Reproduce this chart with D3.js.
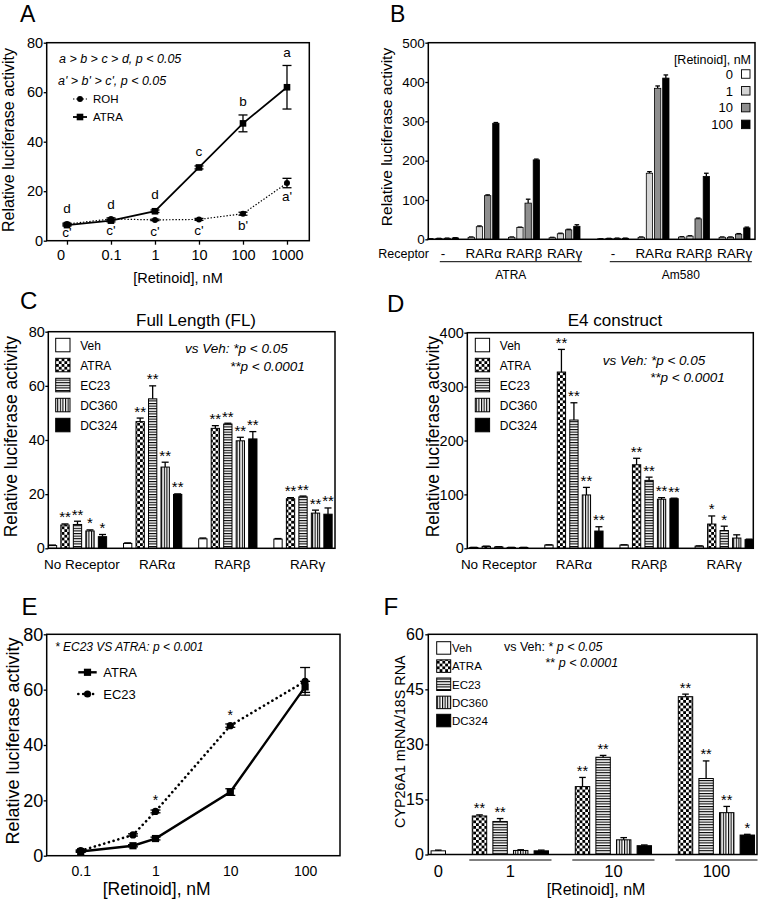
<!DOCTYPE html>
<html><head><meta charset="utf-8">
<script src="https://cdn.jsdelivr.net/npm/d3@7"></script>
<style>
body{margin:0;background:#fff}
svg text{font-family:"Liberation Sans",Arial,Helvetica,sans-serif;fill:#000}
</style></head><body>
<svg id="c" width="759" height="900"></svg>
<script>
// ================= DATA =================
// Panel A
const concA = [0, 0.1, 1, 10, 100, 1000];
const rohA = [6.7, 8.8, 8.4, 8.6, 10.9, 23.3];
const rohAErr = [0.4, 0.4, 0.3, 0.4, 0.6, 1.9];
const atraA = [6.3, 8.1, 11.9, 29.6, 47.4, 62];
const atraAErr = [0.4, 0.5, 0.5, 0.6, 3.4, 8.8];
const atraALetters = ["d", "d", "d", "c", "b", "a"];
const rohALetters = ["c'", "c'", "c'", "c'", "b'", "a'"];
const yTicksA = [0, 20, 40, 60, 80];

// Panel B
const compoundsB = ["ATRA", "Am580"];
const receptorsB = ["-", "RARα", "RARβ", "RARγ"];
const dosesB = ["0", "1", "10", "100"];
const bATRA = [[1, 2, 2.5, 3.5], [5, 32, 111, 295], [5, 30, 92, 202], [4, 14, 24, 33]];
const bATRAErr = [[0.5, 0.5, 0.5, 0.5], [1, 2, 2, 2], [1, 1, 10, 2], [1, 1.5, 1.5, 4]];
const bAm580 = [[1, 2, 2.5, 2.5], [5, 168, 384, 410], [5.5, 8, 52, 160], [5, 5, 13, 29]];
const bAm580Err = [[0.5, 0.5, 0.5, 0.5], [1, 4, 6, 8], [1, 1, 2, 8], [1, 1, 1.5, 2]];
const yTicksB = [0, 100, 200, 300, 400, 500];

// Panels C, D (treatments)
const treatments = ["Veh", "ATRA", "EC23", "DC360", "DC324"];
const receptorsCD = ["No Receptor", "RARα", "RARβ", "RARγ"];
const cValues = [[1.0, 8.6, 8.8, 6.4, 4.3], [1.8, 46.8, 55.2, 30.0, 19.9], [3.5, 44.3, 45.9, 39.7, 40.4], [3.4, 18.3, 19.0, 13.0, 12.6]];
const cErrs = [[0.2, 0.4, 1.2, 0.4, 0.8], [0.2, 1.3, 4.8, 1.8, 0.2], [0.3, 1.0, 0.3, 1.3, 2.7], [0.2, 0.4, 0.3, 1.1, 2.3]];
const cStars = [["", "**", "**", "*", "*"], ["", "**", "**", "**", "**"], ["", "**", "**", "**", "**"], ["", "**", "**", "**", "**"]];
const yTicksC = [0, 20, 40, 60, 80];
const dValues = [[1.5, 3.5, 2.5, 1.5, 1.5], [6, 327, 238, 99, 32], [6, 155, 126, 91, 92], [4, 45, 33, 19, 16]];
const dErrs = [[0.3, 0.5, 0.5, 0.3, 0.3], [0.5, 42, 32, 14, 8], [0.5, 12, 6, 3, 1], [0.5, 15, 8, 6, 1]];
const dStars = [["", "", "", "", ""], ["", "**", "**", "**", "**"], ["", "**", "**", "**", "**"], ["", "*", "*", "", ""]];
const yTicksD = [0, 100, 200, 300, 400];

// Panel E
const concE = [0.1, 0.5, 1, 10, 100];
const atraE = [1.5, 3.6, 6.2, 23, 61];
const atraEErr = [0.3, 0.4, 0.5, 1.2, 2];
const ec23E = [1.8, 7.5, 16, 47, 63];
const ec23EErr = [0.3, 0.4, 0.5, 0.6, 5];
const starsE = ["", "", "*", "*", ""];
const xTicksE = [0.1, 1, 10, 100];
const yTicksE = [0, 20, 40, 60, 80];

// Panel F
const dosesF = ["0", "1", "10", "100"];
const treatF = ["ATRA", "EC23", "DC360", "DC324"];
const fVeh = 1.0, fVehErr = 0.2;
const fValues = [[10.5, 9.0, 1.1, 1.0], [18.5, 26.5, 4.0, 2.4], [43.0, 20.7, 11.4, 5.3]];
const fErrs = [[0.3, 0.8, 0.2, 0.2], [2.5, 0.5, 0.6, 0.2], [0.7, 4.8, 1.7, 0.2]];
const fStars = [["**", "**", "", ""], ["**", "**", "", ""], ["**", "**", "**", "*"]];
const yTicksF = [0, 15, 30, 45, 60];

// ================= DRAWING =================
const FONT = '"Liberation Sans",Arial,Helvetica,sans-serif';
const svg = d3.select("#c");
const defs = svg.append("defs");
// patterns
const chk = defs.append("pattern").attr("id", "chk").attr("patternUnits", "userSpaceOnUse").attr("width", 5.6).attr("height", 5.6);
chk.append("rect").attr("width", 5.6).attr("height", 5.6).attr("fill", "#fff");
chk.append("rect").attr("width", 2.8).attr("height", 2.8).attr("fill", "#000");
chk.append("rect").attr("x", 2.8).attr("y", 2.8).attr("width", 2.8).attr("height", 2.8).attr("fill", "#000");
const hl = defs.append("pattern").attr("id", "hl").attr("patternUnits", "userSpaceOnUse").attr("width", 4).attr("height", 2.6);
hl.append("rect").attr("width", 4).attr("height", 2.6).attr("fill", "#fff");
hl.append("rect").attr("width", 4).attr("height", 1.1).attr("fill", "#000");
const vl = defs.append("pattern").attr("id", "vl").attr("patternUnits", "userSpaceOnUse").attr("width", 2.6).attr("height", 4);
vl.append("rect").attr("width", 2.6).attr("height", 4).attr("fill", "#fff");
vl.append("rect").attr("width", 1.1).attr("height", 4).attr("fill", "#000");
const clipB = defs.append("clipPath").attr("id", "clipB");
clipB.append("rect").attr("x", 381).attr("y", 0).attr("width", 378).attr("height", 300);

const fillT = {Veh: "#fff", ATRA: "url(#chk)", EC23: "url(#hl)", DC360: "url(#vl)", DC324: "#000"};

function label(txt, x, y, fs, opts = {}) {
  const t = svg.append("text").attr("x", x).attr("y", y).attr("font-size", fs).text(txt);
  if (opts.anchor) t.attr("text-anchor", opts.anchor);
  if (opts.italic) t.attr("font-style", "italic");
  return t;
}
function yTitle(txt, xb, yc, fs, parent) {
  (parent || svg).append("text").attr("transform", `translate(${xb},${yc}) rotate(-90)`)
    .attr("text-anchor", "middle").attr("font-size", fs).text(txt);
}
function box(x0, x1, y0, y1) {
  svg.append("rect").attr("x", x0).attr("y", y0).attr("width", x1 - x0).attr("height", y1 - y0)
    .attr("fill", "none").attr("stroke", "#000").attr("stroke-width", 1.5);
}
function yAxis(scale, x, ticks, fs, pad) {
  const g = svg.append("g").attr("transform", `translate(${x},0)`)
    .call(d3.axisLeft(scale).tickValues(ticks).tickSize(3).tickPadding(pad).tickFormat(d3.format("d")));
  g.attr("font-family", FONT).attr("font-size", fs);
  g.select(".domain").remove();
  g.selectAll(".tick line").attr("stroke-width", 1.3);
  return g;
}
function errUp(g, cx, yTop, yErr, cap) {
  g.append("line").attr("x1", cx).attr("x2", cx).attr("y1", yTop).attr("y2", yErr).attr("stroke", "#000").attr("stroke-width", 1.3);
  g.append("line").attr("x1", cx - cap).attr("x2", cx + cap).attr("y1", yErr).attr("y2", yErr).attr("stroke", "#000").attr("stroke-width", 1.3);
}
function errBoth(g, cx, y1, y2, cap) {
  g.append("line").attr("x1", cx).attr("x2", cx).attr("y1", y1).attr("y2", y2).attr("stroke", "#000").attr("stroke-width", 1.3);
  [y1, y2].forEach(y => g.append("line").attr("x1", cx - cap).attr("x2", cx + cap).attr("y1", y).attr("y2", y).attr("stroke", "#000").attr("stroke-width", 1.3));
}

// ---------- Panel A ----------
(function () {
  const L = 46.7, R = 309.3, T = 42.7, B = 240.7;
  const x = d3.scaleLog().domain([Math.pow(10, -2.461), Math.pow(10, 3.507)]).range([L, R]);
  const y = d3.scaleLinear().domain([0, 80]).range([B, T]);
  const px = c => x(c === 0 ? 0.01 : c);
  label("A", 20, 21.5, 23);
  yAxis(y, L, yTicksA, 14.5, 0.5);
  const gx = svg.append("g").attr("transform", `translate(0,${B})`)
    .call(d3.axisBottom(x).tickValues(concA.map(c => c === 0 ? 0.01 : c)).tickSize(4).tickPadding(5)
      .tickFormat((d, i) => String(concA[i])));
  gx.attr("font-family", FONT).attr("font-size", 14.5);
  gx.select(".domain").remove();
  gx.selectAll(".tick line").attr("stroke-width", 1.3);
  gx.selectAll(".tick text").filter((d, i) => i === 0).attr("dx", -6.5);
  box(L, R, T, B);
  yTitle("Relative luciferase activity", 14, 140, 16);
  label("[Retinoid], nM", 178, 283, 14.5, {anchor: "middle"});
  label("a > b > c > d, p < 0.05", 59, 62.7, 12.5, {italic: true});
  label("a' > b' > c', p < 0.05", 58, 84.5, 12.5, {italic: true});

  const g = svg.append("g");
  const lineA = d3.line().x((d, i) => px(concA[i])).y(d => y(d));
  g.append("path").attr("d", lineA(atraA)).attr("fill", "none").attr("stroke", "#000").attr("stroke-width", 1.8);
  g.append("path").attr("d", lineA(rohA)).attr("fill", "none").attr("stroke", "#000").attr("stroke-width", 1.2).attr("stroke-dasharray", "1.4,1.8");
  concA.forEach((c, i) => {
    errBoth(g, px(c), y(atraA[i] + atraAErr[i]), y(atraA[i] - atraAErr[i]), 4.5);
    errBoth(g, px(c), y(rohA[i] + rohAErr[i]), y(rohA[i] - rohAErr[i]), 4.5);
    g.append("rect").attr("x", px(c) - 3.3).attr("y", y(atraA[i]) - 3.3).attr("width", 6.6).attr("height", 6.6).attr("fill", "#000");
    g.append("circle").attr("cx", px(c)).attr("cy", y(rohA[i])).attr("r", 3).attr("fill", "#000");
    const topA = Math.min(y(atraA[i]) - 3.3, y(atraA[i] + atraAErr[i]));
    label(atraALetters[i], px(c), topA - 8.5, 13.5, {anchor: "middle"});
    const botR = Math.max(y(rohA[i]) + 3, y(rohA[i] - rohAErr[i]));
    label(rohALetters[i], px(c), Math.min(botR + 13, 237), 13.5, {anchor: "middle"});
  });
  // legend
  const lg = svg.append("g");
  lg.append("line").attr("x1", 73).attr("x2", 87).attr("y1", 99).attr("y2", 99).attr("stroke", "#000").attr("stroke-width", 1.2).attr("stroke-dasharray", "1.4,1.8");
  lg.append("circle").attr("cx", 80).attr("cy", 99).attr("r", 3);
  lg.append("line").attr("x1", 73).attr("x2", 87).attr("y1", 117).attr("y2", 117).attr("stroke", "#000").attr("stroke-width", 1.8);
  lg.append("rect").attr("x", 76.7).attr("y", 113.7).attr("width", 6.6).attr("height", 6.6);
  label("ROH", 93, 103, 11.5);
  label("ATRA", 93, 121, 11.5);
})();

// ---------- Panel B ----------
(function () {
  const L = 428.3, R = 755, T = 42.7, B = 239.3;
  const y = d3.scaleLinear().domain([0, 500]).range([B, T]);
  const xC = d3.scaleBand().domain(compoundsB).range([422.8, 754.8]).paddingInner(0.047);
  const xR = d3.scaleBand().domain(receptorsB).range([0, xC.bandwidth()]);
  const xD = d3.scaleBand().domain(dosesB).range([0, xR.bandwidth()]).paddingInner(0.23).paddingOuter(0.585);
  const doseFill = {"0": "#fff", "1": "#d4d4d4", "10": "#8e8e8e", "100": "#000"};
  label("B", 390, 21.5, 23);
  yAxis(y, L, yTicksB, 13.5, 0.5);
  const g = svg.append("g");
  compoundsB.forEach((comp, ci) => {
    const vals = ci === 0 ? bATRA : bAm580, errs = ci === 0 ? bATRAErr : bAm580Err;
    receptorsB.forEach((rec, ri) => {
      dosesB.forEach((d, di) => {
        const x0 = xC(comp) + xR(rec) + xD(d), w = xD.bandwidth(), v = vals[ri][di];
        errUp(g, x0 + w / 2, y(v), y(v + errs[ri][di]), 2.3);
        g.append("rect").attr("x", x0).attr("y", y(v)).attr("width", w).attr("height", B - y(v))
          .attr("fill", doseFill[d]).attr("stroke", "#000").attr("stroke-width", 0.8);
      });
      label(rec, xC(comp) + xR(rec) + xR.bandwidth() / 2, 258, 13.5, {anchor: "middle"});
    });
    const u0 = xC(comp) + 17, u1 = xC(comp) + xC.bandwidth() - 3;
    svg.append("line").attr("x1", u0).attr("x2", u1).attr("y1", 261.7).attr("y2", 261.7).attr("stroke", "#000").attr("stroke-width", 1);
    label(comp, (u0 + u1) / 2, 279, 12, {anchor: "middle"});
  });
  box(L, R, T, B);
  label("Receptor", 429, 258, 12.5, {anchor: "end"});
  const tg = svg.append("g").attr("clip-path", "url(#clipB)");
  yTitle("Relative luciferase activity", 391.5, 137, 15.5, tg);
  // legend
  label("[Retinoid], nM", 751, 64, 12.5, {anchor: "end"});
  dosesB.forEach((d, i) => {
    const cy = 74 + i * 16.8;
    label(d, 733, cy + 4.7, 13, {anchor: "end"});
    svg.append("rect").attr("x", 741.5).attr("y", cy - 4.25).attr("width", 8.5).attr("height", 8.5)
      .attr("fill", doseFill[d]).attr("stroke", "#000").attr("stroke-width", 0.9);
  });
})();

// ---------- Panels C & D ----------
function barPanel(o) {
  const y = d3.scaleLinear().domain(o.yDomain).range([o.B, o.T]);
  const xG = d3.scaleBand().domain(receptorsCD).range(o.range);
  const xT = d3.scaleBand().domain(treatments).range([0, xG.bandwidth()]).paddingInner(0.336).paddingOuter(0.676);
  label(o.letter, o.letterX, o.letterY, 24);
  yAxis(y, o.L, o.ticks, 14.5, 0.5);
  const g = svg.append("g");
  receptorsCD.forEach((grp, gi) => {
    treatments.forEach((t, ti) => {
      const v = o.values[gi][ti], e = o.errs[gi][ti];
      const x0 = xG(grp) + xT(t), w = xT.bandwidth(), cx = x0 + w / 2;
      g.append("rect").attr("x", x0).attr("y", y(v)).attr("width", w).attr("height", o.B - y(v))
        .attr("fill", fillT[t]).attr("stroke", "#000").attr("stroke-width", 1);
      errUp(g, cx, y(v), y(v + e), 3.5);
      if (o.stars[gi][ti]) label(o.stars[gi][ti], cx, y(v + e) - 1.5, 15, {anchor: "middle"});
    });
    label(grp, xG(grp) + xG.bandwidth() / 2 + o.labelDx, o.B + 21, 13.5, {anchor: "middle"});
  });
  box(o.L, o.R, o.T, o.B);
  label(o.title, o.titleX, 326, 17, {anchor: "middle"});
  yTitle("Relative luciferase activity", o.ytX, 436.7, 17.5);
  // legend
  treatments.forEach((t, i) => {
    const top = 338.3 + i * 20;
    svg.append("rect").attr("x", o.legX).attr("y", top).attr("width", 14.3).attr("height", 13.5)
      .attr("fill", fillT[t]).attr("stroke", "#000").attr("stroke-width", 1);
    label(t, o.legX + 24.5, top + 11.3, 12);
  });
  label("vs Veh: *p < 0.05", o.annX1, o.annY1, 13.5, {italic: true});
  label("**p < 0.0001", o.annX2, o.annY1 + 17.7, 13.5, {italic: true});
}
barPanel({letter: "C", letterX: 20, letterY: 309, L: 48.3, R: 335, T: 331.7, B: 548.3, yDomain: [0, 80], ticks: yTicksC,
  range: [39.9, 340.6], values: cValues, errs: cErrs, stars: cStars, labelDx: 4.5, title: "Full Length (FL)", titleX: 196,
  ytX: 17, legX: 55.7, annX1: 185, annX2: 230, annY1: 353});
barPanel({letter: "D", letterX: 387, letterY: 311.5, L: 467.3, R: 753.3, T: 332.7, B: 548.3, yDomain: [0, 400], ticks: yTicksD,
  range: [461.2, 761.8], values: dValues, errs: dErrs, stars: dStars, labelDx: 0, title: "E4 construct", titleX: 615,
  ytX: 438.5, legX: 475.3, annX1: 602.7, annX2: 650, annY1: 364.7});

// ---------- Panel E ----------
(function () {
  const L = 46.7, R = 340, T = 634.3, B = 855.7;
  const x = d3.scaleLog().domain([Math.pow(10, -1.4545), Math.pow(10, 2.4666)]).range([L, R]);
  const y = d3.scaleLinear().domain([0, 80]).range([B, T]);
  label("E", 21.5, 615, 24);
  yAxis(y, L, yTicksE, 18, 0.5);
  const gx = svg.append("g").attr("transform", `translate(0,${B})`)
    .call(d3.axisBottom(x).tickValues(xTicksE).tickSize(0).tickPadding(10).tickFormat(d => String(d)));
  gx.attr("font-family", FONT).attr("font-size", 14);
  gx.select(".domain").remove();
  box(L, R, T, B);
  yTitle("Relative luciferase activity", 18.5, 741, 18);
  label("[Retinoid], nM", 156.7, 895, 17.5, {anchor: "middle"});
  label("* EC23 VS ATRA: p < 0.001", 55, 651, 12, {italic: true});
  const g = svg.append("g");
  const line = d3.line().x((d, i) => x(concE[i])).y(d => y(d));
  g.append("path").attr("d", line(ec23E)).attr("fill", "none").attr("stroke", "#000").attr("stroke-width", 2.6)
    .attr("stroke-dasharray", "0.1,4.8").attr("stroke-linecap", "round");
  g.append("path").attr("d", line(atraE)).attr("fill", "none").attr("stroke", "#000").attr("stroke-width", 2.4);
  concE.forEach((c, i) => {
    errBoth(g, x(c), y(ec23E[i] + ec23EErr[i]), y(ec23E[i] - ec23EErr[i]), 5);
    errBoth(g, x(c), y(atraE[i] + atraEErr[i]), y(atraE[i] - atraEErr[i]), 5);
    g.append("circle").attr("cx", x(c)).attr("cy", y(ec23E[i])).attr("r", 3.6);
    g.append("rect").attr("x", x(c) - 3.6).attr("y", y(atraE[i]) - 3.6).attr("width", 7.2).attr("height", 7.2);
    if (starsE[i]) label(starsE[i], x(c), y(ec23E[i]) - 6, 14, {anchor: "middle"});
  });
  // legend
  g.append("line").attr("x1", 78.3).attr("x2", 96.7).attr("y1", 672.3).attr("y2", 672.3).attr("stroke", "#000").attr("stroke-width", 2.4);
  g.append("rect").attr("x", 83.9).attr("y", 668.7).attr("width", 7.2).attr("height", 7.2);
  g.append("line").attr("x1", 78.3).attr("x2", 96.7).attr("y1", 694).attr("y2", 694).attr("stroke", "#000").attr("stroke-width", 2.6)
    .attr("stroke-dasharray", "0.1,4.8").attr("stroke-linecap", "round");
  g.append("circle").attr("cx", 87.5).attr("cy", 694).attr("r", 3.6);
  label("ATRA", 103.3, 677, 13);
  label("EC23", 103.3, 698.7, 13);
})();

// ---------- Panel F ----------
(function () {
  const L = 428.3, R = 757, T = 634.3, B = 854.5;
  const y = d3.scaleLinear().domain([0, 60]).range([B, T]);
  const slots = [];
  dosesF.forEach((d, di) => {
    if (di > 0) slots.push("gap" + di);
    (d === "0" ? ["Veh"] : treatF).forEach(t => slots.push(d + "|" + t));
  });
  const x = d3.scaleBand().domain(slots).range([428.3, 757.3]).paddingInner(0.3).paddingOuter(0.135);
  const w = x.bandwidth();
  label("F", 383.5, 615, 24);
  yAxis(y, L, yTicksF, 16, 1.5);
  const g = svg.append("g");
  function bar(key, t, v, e, star) {
    const x0 = x(key), cx = x0 + w / 2;
    g.append("rect").attr("x", x0).attr("y", y(v)).attr("width", w).attr("height", B - y(v))
      .attr("fill", fillT[t]).attr("stroke", "#000").attr("stroke-width", 1);
    errUp(g, cx, y(v), y(v + e), 3.3);
    if (star) label(star, cx, y(v + e) - 1.5, 14.5, {anchor: "middle"});
  }
  bar("0|Veh", "Veh", fVeh, fVehErr, "");
  label("0", x("0|Veh") + w / 2, 877, 16.5, {anchor: "middle"});
  dosesF.slice(1).forEach((d, di) => {
    treatF.forEach((t, ti) => bar(d + "|" + t, t, fValues[di][ti], fErrs[di][ti], fStars[di][ti]));
    const x0 = x(d + "|" + treatF[0]), x1 = x(d + "|" + treatF[treatF.length - 1]) + w;
    svg.append("line").attr("x1", x0 - 3).attr("x2", x1 + 3).attr("y1", 860).attr("y2", 860).attr("stroke", "#000").attr("stroke-width", 1);
    label(d, (x0 + x1) / 2, 877, 16.5, {anchor: "middle"});
  });
  box(L, R, T, B);
  yTitle("CYP26A1 mRNA/18S RNA", 404.5, 741.7, 14.3);
  label("[Retinoid], nM", 596, 895, 16, {anchor: "middle"});
  // legend
  treatments.forEach((t, i) => {
    const top = 641.7 + i * 18.15;
    svg.append("rect").attr("x", 436.7).attr("y", top).attr("width", 14).attr("height", 12.5)
      .attr("fill", fillT[t]).attr("stroke", "#000").attr("stroke-width", 1);
    label(t, 452, top + 10.5, 11.5);
  });
  const t1 = label("vs Veh: * ", 504, 651, 12.5);
  t1.append("tspan").attr("font-style", "italic").text(" p < 0.05");
  const t2 = label("** ", 545.5, 667, 12.5);
  t2.append("tspan").attr("font-style", "italic").text("p < 0.0001");
})();
</script>
</body></html>
